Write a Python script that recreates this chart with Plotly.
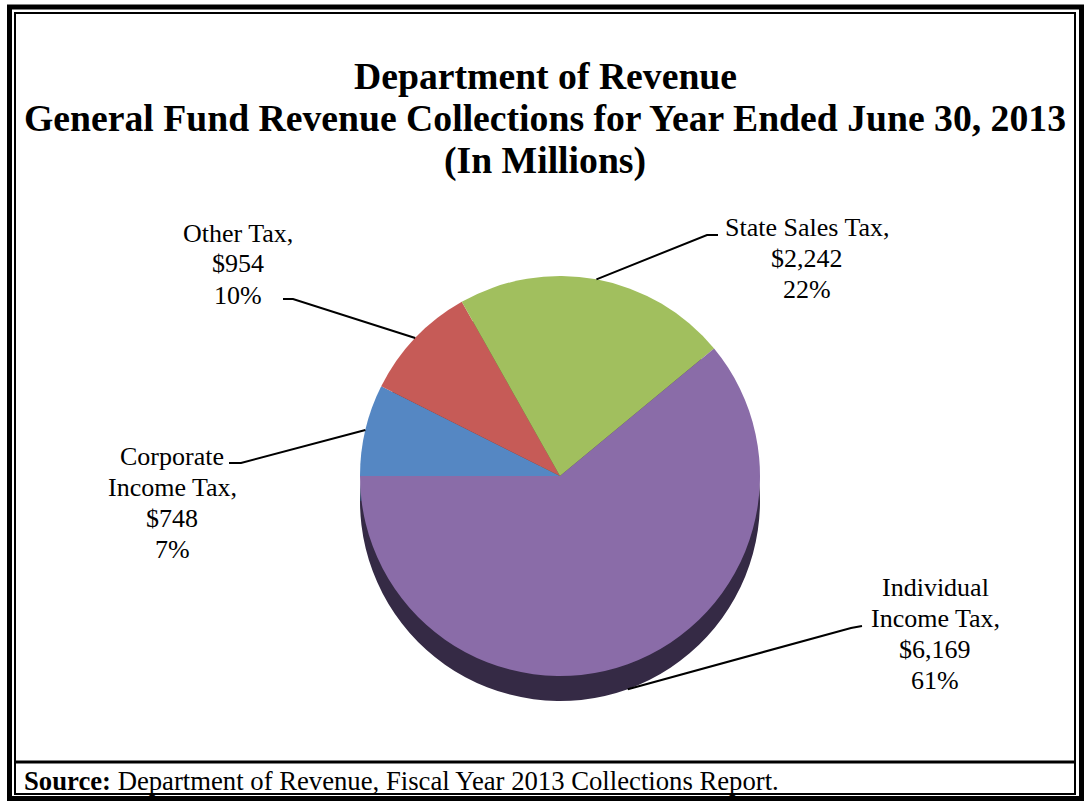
import numpy as np
import plotly.graph_objects as go

W, H = 1084, 801
FONT = "Liberation Serif"

categories = ["Corporate Income Tax", "Other Tax", "State Sales Tax", "Individual Income Tax"]
label_names = [["Corporate", "Income Tax,"], ["Other Tax,"], ["State Sales Tax,"], ["Individual", "Income Tax,"]]
values = [748, 954, 2242, 6169]
pct_labels = ["7%", "10%", "22%", "61%"]
colors = ["#5587C3", "#C65B57", "#A1BF5E", "#8A6CA8"]
side_colors = ["#2C4260", "#63302E", "#4F5F2E", "#352A45"]

title_lines = [
    "Department of Revenue",
    "General Fund Revenue Collections for Year Ended June 30, 2013",
    "(In Millions)",
]
source_text = "<b>Source:</b> Department of Revenue, Fiscal Year 2013 Collections Report."

# pie geometry in pixels (top face), and the thickness of the fake 3d side
CX, CY, R, DEPTH = 560, 476, 200, 25

# label centre, end of leader line at the text, small elbow
label_pos = [
    dict(x=172, y=503, end=(229, 463), elbow=(241, 463)),
    dict(x=238, y=264, end=(283, 299), elbow=(293, 299)),
    dict(x=807, y=258, end=(718, 235), elbow=(707, 235)),
    dict(x=935, y=634, end=(862, 626), elbow=(851, 628)),
]
LINE_GAP = 31


def px(x):
    return x / W


def py(y):
    return 1 - y / H


def pie_domain(cy):
    return dict(x=[px(CX - R), px(CX + R)], y=[py(cy + R), py(cy - R)])


def text_block(lines, x, y, size, gap, bold=False):
    # one annotation per line so the line spacing can match Excel's
    out = []
    top = y - gap * (len(lines) - 1) / 2
    for k, line in enumerate(lines):
        out.append(dict(
            x=px(x), y=py(top + k * gap), xref="paper", yref="paper",
            text=f"<b>{line}</b>" if bold else line, showarrow=False,
            xanchor="center", yanchor="middle",
            font=dict(family=FONT, size=size, color="black"),
        ))
    return out


fig = go.Figure()
# darker copy pushed down gives the side of the disc
fig.add_trace(go.Pie(
    values=values, labels=categories, sort=False, direction="clockwise",
    rotation=270, textinfo="none", hoverinfo="skip", showlegend=False,
    marker=dict(colors=side_colors, line=dict(width=0)),
    domain=pie_domain(CY + DEPTH),
))
fig.add_trace(go.Pie(
    values=values, labels=categories, sort=False, direction="clockwise",
    rotation=270, textinfo="none", showlegend=False,
    marker=dict(colors=colors, line=dict(width=0)),
    domain=pie_domain(CY),
))

# leader lines go from the middle of each slice to its label
frac = np.array(values) / np.sum(values)
mid = (np.cumsum(frac) - frac / 2) * 2 * np.pi
shapes = []
annotations = []
for i, a in enumerate(mid):
    sx = CX - R * np.cos(a)
    sy = CY - R * np.sin(a)
    if np.sin(a) < 0:
        sy += DEPTH
    lp = label_pos[i]
    path = (f"M {px(sx)} {py(sy)} L {px(lp['elbow'][0])} {py(lp['elbow'][1])} "
            f"L {px(lp['end'][0])} {py(lp['end'][1])}")
    shapes.append(dict(type="path", xref="paper", yref="paper", path=path,
                       line=dict(color="black", width=2)))
    lines = label_names[i] + [f"${values[i]:,}", pct_labels[i]]
    annotations += text_block(lines, lp["x"], lp["y"], 26, LINE_GAP)

annotations += text_block(title_lines, 545, 118, 37.7, 42.5, bold=True)
annotations.append(dict(
    x=px(22), y=py(781), xref="paper", yref="paper", showarrow=False,
    text=source_text, xanchor="left", yanchor="middle",
    font=dict(family=FONT, size=26.7, color="black"),
))

# double frame and the line above the source note
shapes += [
    dict(type="rect", xref="paper", yref="paper", x0=px(9.5), x1=px(1081.5),
         y0=py(798.5), y1=py(7), line=dict(color="black", width=5)),
    dict(type="rect", xref="paper", yref="paper", x0=px(15), x1=px(1075),
         y0=py(794), y1=py(13), line=dict(color="black", width=2)),
    dict(type="line", xref="paper", yref="paper", x0=px(15), x1=px(1075),
         y0=py(762), y1=py(762), line=dict(color="black", width=3)),
]

fig.update_layout(
    width=W, height=H,
    margin=dict(l=0, r=0, t=0, b=0),
    paper_bgcolor="white", plot_bgcolor="white",
    shapes=shapes, annotations=annotations,
)
# drop the page's default body margin so the frame sits at the window edge
fig.write_html("out.html", config={"displayModeBar": False},
               post_script="document.body.style.margin='0';")
